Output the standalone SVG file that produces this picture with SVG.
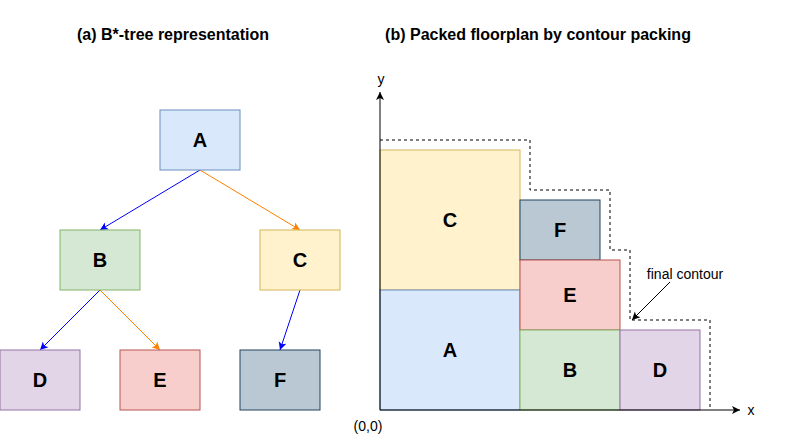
<svg xmlns="http://www.w3.org/2000/svg" width="788" height="440" viewBox="0 0 788 440">
<style>
text{font-family:"Liberation Sans",Arial,sans-serif;text-anchor:middle}
.t{font-size:16px;font-weight:bold}
.n{font-size:20px;font-weight:bold}
.s{font-size:14px}
.e{fill:none;stroke-width:1}
</style>
<defs>
<marker id="mb" markerWidth="10" markerHeight="10" refX="8" refY="5" orient="auto" markerUnits="userSpaceOnUse"><path d="M0,1 L8,5 L0,9 L2,5z" fill="#0000ff"/></marker>
<marker id="mo" markerWidth="10" markerHeight="10" refX="8" refY="5" orient="auto" markerUnits="userSpaceOnUse"><path d="M0,1 L8,5 L0,9 L2,5z" fill="#ff8000"/></marker>
<marker id="mk" markerWidth="10" markerHeight="10" refX="8" refY="5" orient="auto" markerUnits="userSpaceOnUse"><path d="M0,1 L8,5 L0,9 L2,5z" fill="#000"/></marker>
</defs>
<rect width="788" height="440" fill="#fff"/>
<text class="t" x="173" y="40">(a) B*-tree representation</text>
<text class="t" x="538" y="40">(b) Packed floorplan by contour packing</text>
<g id="connectors">
<line class="e" x1="200" y1="170" x2="100" y2="230" stroke="#0000ff" marker-end="url(#mb)"/>
<line class="e" x1="200" y1="170" x2="300" y2="230" stroke="#ff8000" marker-end="url(#mo)"/>
<line class="e" x1="100" y1="290" x2="40" y2="350" stroke="#0000ff" marker-end="url(#mb)"/>
<line class="e" x1="100" y1="290" x2="160" y2="350" stroke="#ff8000" marker-end="url(#mo)"/>
<line class="e" x1="300" y1="290" x2="280" y2="350" stroke="#0000ff" marker-end="url(#mb)"/>
</g>
<g id="tA"><rect x="160" y="110" width="80" height="60" fill="#dae8fc" stroke="#6c8ebf"/><text class="n" x="200" y="147">A</text></g>
<g id="tB"><rect x="60" y="230" width="80" height="60" fill="#d5e8d4" stroke="#82b366"/><text class="n" x="100" y="267">B</text></g>
<g id="tC"><rect x="260" y="230" width="80" height="60" fill="#fff2cc" stroke="#d6b656"/><text class="n" x="300" y="267">C</text></g>
<g id="tD"><rect x="0" y="350" width="80" height="60" fill="#e1d5e7" stroke="#9673a6"/><text class="n" x="40" y="387">D</text></g>
<g id="tE"><rect x="120" y="350" width="80" height="60" fill="#f8cecc" stroke="#b85450"/><text class="n" x="160" y="387">E</text></g>
<g id="tF"><rect x="240" y="350" width="80" height="60" fill="#bac8d3" stroke="#23445d"/><text class="n" x="280" y="387">F</text></g>
<g id="floorplan">
<rect x="380" y="150" width="140" height="140" fill="#fff2cc" stroke="#d6b656"/><text class="n" x="450" y="227">C</text>
<rect x="380" y="290" width="140" height="120" fill="#dae8fc" stroke="#6c8ebf"/><text class="n" x="450" y="357">A</text>
<rect x="520" y="200" width="80" height="60" fill="#bac8d3" stroke="#23445d"/><text class="n" x="560" y="237">F</text>
<rect x="520" y="260" width="100" height="70" fill="#f8cecc" stroke="#b85450"/><text class="n" x="570" y="302">E</text>
<rect x="520" y="330" width="100" height="80" fill="#d5e8d4" stroke="#82b366"/><text class="n" x="570" y="377">B</text>
<rect x="620" y="330" width="80" height="80" fill="#e1d5e7" stroke="#9673a6"/><text class="n" x="660" y="377">D</text>
<path d="M380,140 H530 V190 H610 V250 H630 V320 H710 V410" fill="none" stroke="#000" stroke-dasharray="3,3"/>
<line x1="380" y1="410" x2="380" y2="92" stroke="#000" marker-end="url(#mk)"/>
<line x1="380" y1="410" x2="740" y2="410" stroke="#000" marker-end="url(#mk)"/>
<line x1="670" y1="282" x2="632" y2="320" stroke="#000" marker-end="url(#mk)"/>
<text class="s" x="381" y="84">y</text>
<text class="s" x="751" y="415">x</text>
<text class="s" x="368" y="431">(0,0)</text>
<text class="s" x="685" y="279">final contour</text>
</g>
</svg>
